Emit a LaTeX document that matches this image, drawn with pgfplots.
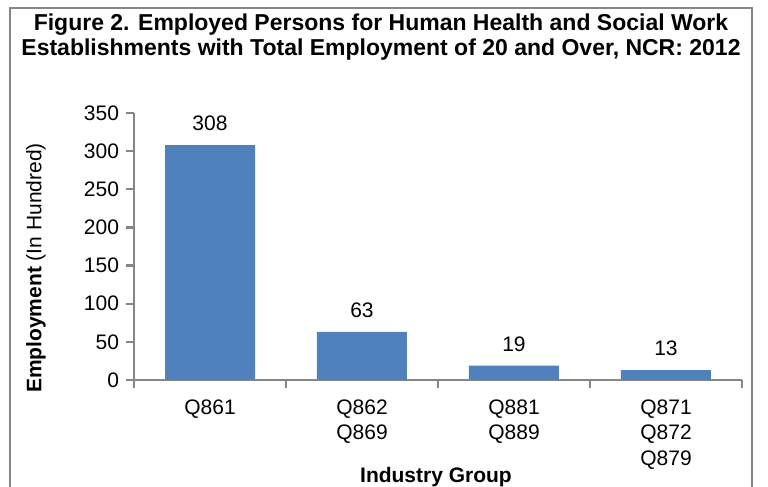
\documentclass[border=0pt]{standalone}
\usepackage{pgfplots}
\pgfplotsset{compat=1.18}
\usepackage{fontspec}
\setmainfont{Liberation Sans}
\definecolor{barblue}{HTML}{4F81BD}
\definecolor{axgray}{HTML}{868686}
\begin{document}
\begin{tikzpicture}[x=0.5pt,y=0.5pt]
\useasboundingbox (0,0) rectangle (768,487);
\clip (0,0) rectangle (768,487);
\draw[axgray,line width=1.2pt] (10,-20) -- (10,479) -- (752,479) -- (752,-20);
\node[align=center,font=\bfseries\fontsize{11.5}{12.8}\selectfont] at (381,450) {Figure 2. Employed Persons for Human Health and Social Work\\Establishments with Total Employment of 20 and Over, NCR: 2012};
\node[rotate=90,font=\fontsize{10.5}{12.6}\selectfont] at (36,219) {\textbf{Employment} (In Hundred)};
\node[font=\bfseries\fontsize{10.5}{12.6}\selectfont] at (436,10) {Industry Group};
\begin{axis}[
  at={(67pt,53.5pt)}, anchor=south west,
  scale only axis, width=304pt, height=133.5pt,
  xmin=-0.5, xmax=3.5, ymin=0, ymax=350,
  axis x line*=bottom, axis y line*=left,
  axis line style={axgray,line width=1.2pt},
  every tick/.style={axgray,line width=1.2pt},
  tick align=outside, major tick length=4pt,
  ytick={0,50,...,350},
  xtick={-0.5,0.5,1.5,2.5,3.5}, xticklabels={},
  extra x ticks={0,1,2,3},
  extra x tick labels={Q861,{Q862\\Q869},{Q881\\Q889},{Q871\\Q872\\Q879}},
  extra x tick style={major tick length=0pt, tick label style={align=center,anchor=north,yshift=-6.5pt}},
  tick label style={font=\fontsize{10.5}{12.6}\selectfont},
  /pgf/number format/assume math mode=true,
  clip=false,
  nodes near coords,
  every node near coord/.append style={font=\fontsize{10.5}{12.6}\selectfont,black,yshift=3.5pt},
]
\addplot[ybar, bar width=45pt, fill=barblue, draw=none] coordinates {(0,308) (1,63) (2,19) (3,13)};
\end{axis}
\end{tikzpicture}
\end{document}
